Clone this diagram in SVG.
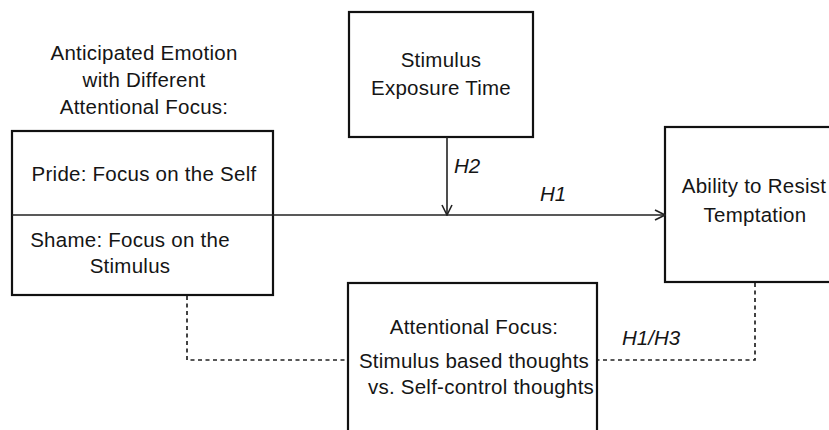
<svg xmlns="http://www.w3.org/2000/svg" width="829" height="430" viewBox="0 0 829 430">
<defs>
<style>
.t{font-family:"Liberation Sans",Arial,Helvetica,sans-serif;font-size:20.5px;letter-spacing:0.25px;fill:#151515;text-anchor:middle}
.h{font-family:"Liberation Sans",Arial,Helvetica,sans-serif;font-size:20.5px;font-style:italic;fill:#151515}
.box{fill:#fff;stroke:#111;stroke-width:2.2}
.ln{fill:none;stroke:#222;stroke-width:1.6}
.dash{fill:none;stroke:#222;stroke-width:1.7;stroke-dasharray:4 3.5}
</style>
<marker id="arr" viewBox="0 0 12 12" refX="11" refY="6" markerWidth="12" markerHeight="12" markerUnits="userSpaceOnUse" orient="auto">
<path d="M1,1 L11,6 L1,11" fill="none" stroke="#222" stroke-width="1.6"/>
</marker>
</defs>
<rect width="829" height="430" fill="#fff"/>
<g id="title">
<text class="t" x="144" y="60">Anticipated Emotion</text>
<text class="t" x="144" y="87">with Different</text>
<text class="t" x="144" y="114">Attentional Focus:</text>
</g>
<g id="emotion">
<rect class="box" x="12" y="131" width="261" height="164"/>
<text class="t" x="144" y="181">Pride: Focus on the Self</text>
<text class="t" x="130" y="247">Shame: Focus on the</text>
<text class="t" x="130" y="273">Stimulus</text>
</g>
<g id="exposure">
<rect class="box" x="349" y="12" width="184" height="125"/>
<text class="t" x="441" y="67">Stimulus</text>
<text class="t" x="441" y="95">Exposure Time</text>
</g>
<g id="resist">
<rect class="box" x="665" y="127" width="180" height="155"/>
<text class="t" x="754" y="193">Ability to Resist</text>
<text class="t" x="755" y="222">Temptation</text>
</g>
<g id="attention">
<rect class="box" x="348" y="283" width="249" height="160"/>
<text class="t" x="474" y="334">Attentional Focus:</text>
<text class="t" x="474" y="368">Stimulus based thoughts</text>
<text class="t" x="481" y="394">vs. Self-control thoughts</text>
</g>
<g id="connectors">
<line class="ln" x1="12" y1="215" x2="665" y2="215" marker-end="url(#arr)"/>
<line class="ln" x1="447" y1="137" x2="447" y2="215" marker-end="url(#arr)"/>
<polyline class="dash" points="187,296 187,360 347,360"/>
<polyline class="dash" points="755,283 755,360 598,360"/>
<text class="h" x="454" y="173">H2</text>
<text class="h" x="540" y="201">H1</text>
<text class="h" x="622" y="345">H1/H3</text>
</g>
</svg>
